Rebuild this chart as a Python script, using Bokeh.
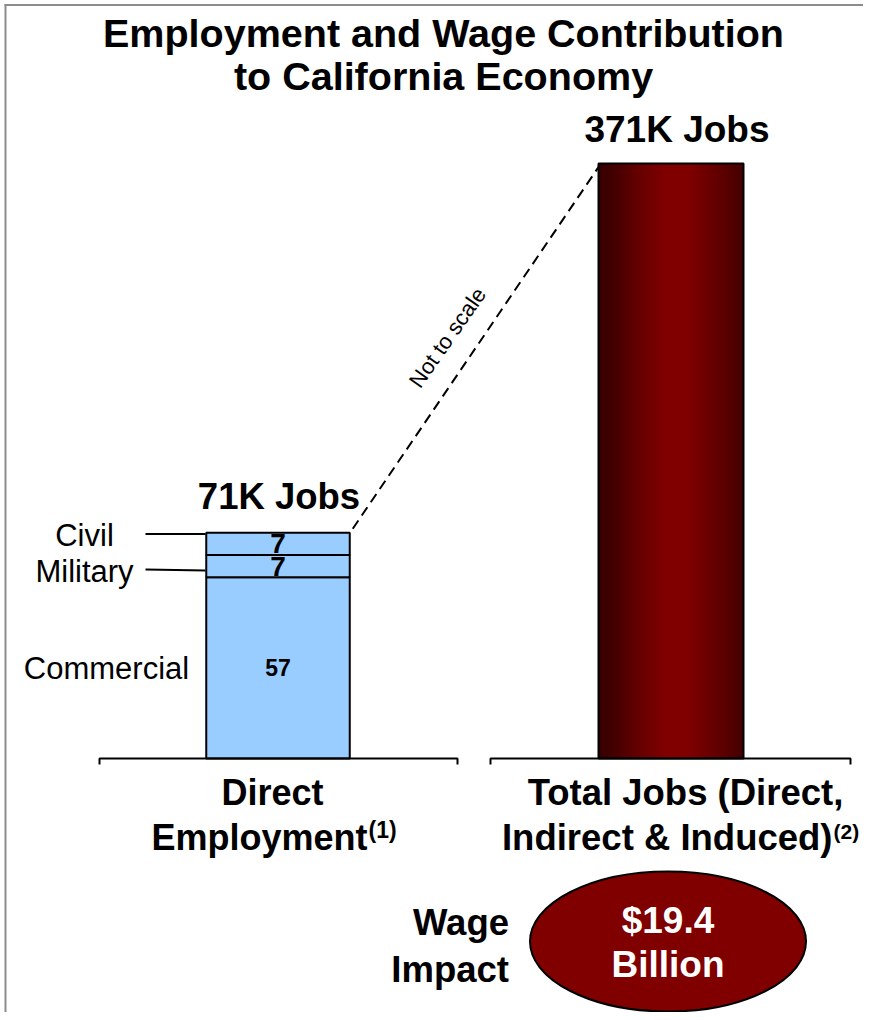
import numpy as np
from bokeh.plotting import figure
from bokeh.models import Range1d
from bokeh.core.properties import value
from bokeh.embed import file_html
from bokeh.resources import INLINE

# ---------------- data ----------------
title_lines = ["Employment and Wage Contribution", "to California Economy"]
segment_names = ["Commercial", "Military", "Civil"]
segment_values = [57, 7, 7]          # thousand direct jobs
direct_total = 71
total_jobs = 371
direct_label = "71K Jobs"
total_label = "371K Jobs"
cat1_lines = ["Direct", "Employment", "(1)"]
cat2_lines = ["Total Jobs (Direct,", "Indirect & Induced)", "(2)"]
wage_lines = ["Wage", "Impact"]
wage_value_lines = ["$19.4", "Billion"]
note_text = "Not to scale"

# ---------------- layout / style ----------------
W, H = 863, 1012
BASE = 758            # pixel row of the bar baseline
S_DIRECT = 3.18       # px per thousand jobs (left bar, not to scale)
S_TOTAL = 1.604       # px per thousand jobs (right bar)
FONT = value("Liberation Sans")
LX, LW = 277.5, 143.5
RX, RW = 670.5, 145.0


def mid(baseline, size):
    """vertical centre of capitals for a given baseline and font size"""
    return baseline - 0.355 * size


def txt(x, baseline, text, size, align="center", bold=True, color="black"):
    p.text(x=list(x), y=[mid(b, size) for b in baseline], text=list(text), text_font=FONT,
           text_font_style="bold" if bold else "normal", text_font_size=value(f"{size}px"),
           text_align=align, text_baseline="middle", text_color=color)


p = figure(width=W, height=H, x_range=Range1d(0, W), y_range=Range1d(H, 0),
           output_backend="svg", toolbar_location=None, x_axis_type=None, y_axis_type=None,
           min_border=0, outline_line_color=None, background_fill_color="white",
           border_fill_color="white")
p.extra_y_ranges = {
    "direct": Range1d(-(H - BASE) / S_DIRECT, BASE / S_DIRECT),
    "total": Range1d(-(H - BASE) / S_TOTAL, BASE / S_TOTAL),
}

# frame lines (left & top)
p.segment(x0=[5, 4], y0=[4, 4.5], x1=[5, W], y1=[H, 4.5], line_color="#8c8c8c", line_width=2)

# title
txt([443, 443], [47, 90], title_lines, 39.5)

# left stacked bar
vals = np.array(segment_values, dtype=float)
tops = np.cumsum(vals)
bottoms = tops - vals
p.vbar(x=[LX] * 3, width=LW, bottom=bottoms, top=tops, y_range_name="direct",
       fill_color="#99CCFF", line_color="black", line_width=2)
mids = (tops + bottoms) / 2
p.text(x=[LX], y=[mids[0]], text=[str(segment_values[0])], y_range_name="direct",
       text_font=FONT, text_font_style="bold", text_font_size=value("23px"),
       text_align="center", text_baseline="middle", text_color="black")
p.text(x=[LX, LX], y=list(mids[1:]), text=[str(v) for v in segment_values[1:]], y_range_name="direct",
       text_font=FONT, text_font_style="bold", text_font_size=value("28px"),
       text_align="center", text_baseline="middle", text_color="black", y_offset=0)
p.text(x=[LX + 1], y=[direct_total], text=[direct_label], y_range_name="direct", y_offset=-36.5,
       text_font=FONT, text_font_style="bold", text_font_size=value("36.5px"),
       text_align="center", text_baseline="middle", text_color="black")

# segment name labels with leader lines
txt([84, 84], [545.7, 581.7], [segment_names[2], segment_names[1]], 31, bold=False)
txt([106], [679.3], [segment_names[0]], 31, bold=False)
p.multi_line(xs=[[145, 205], [145, 205]], ys=[[533.5, 533.5], [569, 570]],
             line_color="black", line_width=2)

# right bar with horizontal gradient
ncol = 290
tc = (np.arange(ncol) + 0.5) / ncol
stops_t = [0.0, 0.1, 0.3, 0.45, 0.62, 0.85, 1.0]
stops_v = [0x36, 0x44, 0x6a, 0x80, 0x80, 0x5e, 0x44]
reds = np.interp(tc, stops_t, stops_v).astype(np.uint32)
img = (np.uint32(255) << 24) | reds          # RGBA little-endian: R in low byte
img = img.reshape(1, ncol).astype(np.uint32)
p.image_rgba(image=[img], x=RX - RW / 2, y=0, dw=RW, dh=total_jobs, y_range_name="total")
p.vbar(x=[RX], width=RW, bottom=0, top=[total_jobs], y_range_name="total",
       fill_alpha=0, line_color="black", line_width=2)
p.text(x=[RX], y=[total_jobs], text=[total_label], y_range_name="total", y_offset=-34, x_offset=6,
       text_font=FONT, text_font_style="bold", text_font_size=value("37px"),
       text_align="center", text_baseline="middle", text_color="black")

# dashed connector + note
x_left = LX + LW / 2 + 3
y_left = BASE - direct_total * S_DIRECT - 4
x_right = RX - RW / 2 + 0.5
y_right = BASE - total_jobs * S_TOTAL + 3
p.line(x=[x_left, x_right], y=[y_left, y_right], line_color="black", line_width=2,
       line_dash="10 6")
p.text(x=[447], y=[337], text=[note_text], angle=np.deg2rad(55), text_font=FONT,
       text_font_size=value("22px"), text_align="center", text_baseline="middle",
       text_color="black")

# category axis (two broken segments with end ticks)
p.multi_line(xs=[[99, 99, 457, 457], [490, 490, 850, 850]],
             ys=[[764, BASE, BASE, 764], [764, BASE, BASE, 764]],
             line_color="black", line_width=2)

# category labels
txt([272], [805], [cat1_lines[0]], 36)
txt([367], [849.5], [cat1_lines[1]], 36, align="right")
txt([368], [838], [cat1_lines[2]], 23, align="left")
txt([685], [805], [cat2_lines[0]], 36.5)
txt([832], [849.5], [cat2_lines[1]], 36.5, align="right")
txt([833], [838], [cat2_lines[2]], 21, align="left")

# wage impact
txt([508.5, 508.5], [935, 981.7], wage_lines, 36.5, align="right")
p.ellipse(x=[667.5], y=[941], width=[276], height=[140], fill_color="#800000",
          line_color="black", line_width=2)
txt([667.5, 667.5], [933.3, 977.3], wage_value_lines, 37, color="white")

open("out.html", "w").write(file_html(p, INLINE))
